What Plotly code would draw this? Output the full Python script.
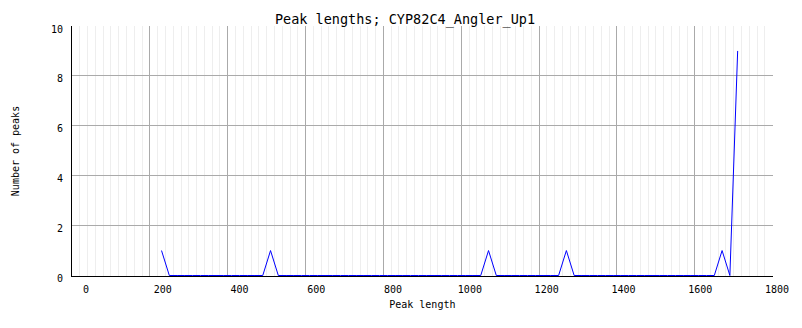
import plotly.graph_objects as go

# ---- data ----
peak_length = [
    230, 250, 270, 290, 310, 330, 350, 370, 390, 410,
    430, 450, 470, 490, 510, 530, 550, 570, 590, 610,
    630, 650, 670, 690, 710, 730, 750, 770, 790, 810,
    830, 850, 870, 890, 910, 930, 950, 970, 990, 1010,
    1030, 1050, 1070, 1090, 1110, 1130, 1150, 1170, 1190, 1210,
    1230, 1250, 1270, 1290, 1310, 1330, 1350, 1370, 1390, 1410,
    1430, 1450, 1470, 1490, 1510, 1530, 1550, 1570, 1590, 1610,
    1630, 1650, 1670, 1690, 1710,
]
num_peaks = [
    1, 0, 0, 0, 0, 0, 0, 0, 0, 0,
    0, 0, 0, 0, 1, 0, 0, 0, 0, 0,
    0, 0, 0, 0, 0, 0, 0, 0, 0, 0,
    0, 0, 0, 0, 0, 0, 0, 0, 0, 0,
    0, 0, 1, 0, 0, 0, 0, 0, 0, 0,
    0, 0, 1, 0, 0, 0, 0, 0, 0, 0,
    0, 0, 0, 0, 0, 0, 0, 0, 0, 0,
    0, 0, 1, 0, 9,
]
x_ticks = [0, 200, 400, 600, 800, 1000, 1200, 1400, 1600, 1800]
y_ticks = [0, 2, 4, 6, 8, 10]

title_text = "Peak lengths; CYP82C4_Angler_Up1"
x_title = "Peak length"
y_title = "Number of peaks"

# ---- layout geometry ----
W, H = 802, 328
plot_left, plot_right = 72, 772.7
label_right = 777
paper_w = label_right - plot_left

MONO = "DejaVu Sans Mono"
tick_font = dict(family=MONO, size=10, color="black")

fig = go.Figure()
# helper axes first so that the data subplot is drawn last (on top)
fig.add_trace(go.Scatter(x=[], y=[], xaxis="x2", yaxis="y2", showlegend=False))
fig.add_trace(go.Scatter(
    x=peak_length, y=num_peaks, mode="lines",
    line=dict(color="#0000ff", width=1, simplify=False),
    xaxis="x", yaxis="y", hoverinfo="skip", showlegend=False,
    cliponaxis=False,
))

fig.update_layout(
    width=W, height=H,
    margin=dict(l=plot_left, r=W - label_right, t=26, b=52, pad=0),
    paper_bgcolor="white", plot_bgcolor="rgba(0,0,0,0)",
    showlegend=False,
    title=dict(
        text=title_text, x=0.505, xanchor="center", xref="container",
        y=1 - 19 / H, yanchor="middle", yref="container",
        font=dict(family=MONO, size=13.5, color="black"),
    ),
    xaxis=dict(
        domain=[0, (plot_right - plot_left) / paper_w],
        range=[0, 1800], tickvals=x_ticks, showticklabels=False,
        showgrid=True, gridcolor="#aaaaaa", gridwidth=1,
        minor=dict(dtick=20, showgrid=True, gridcolor="#eeeeee", gridwidth=1),
        showline=True, linecolor="black", linewidth=1,
        zeroline=False, ticks="", layer="below traces", anchor="y",
        title=dict(text=x_title, font=dict(family=MONO, size=10, color="black"), standoff=24),
        fixedrange=True,
    ),
    yaxis=dict(
        domain=[0, 1], range=[-0.02, 10], tickvals=y_ticks,
        tickfont=tick_font, ticklabelstandoff=6, ticklabelshift=3,
        showgrid=True, gridcolor="#aaaaaa", gridwidth=1,
        showline=True, linecolor="black", linewidth=1,
        zeroline=False,
        ticks="", layer="below traces", anchor="x",
        title=dict(text=y_title, font=dict(family=MONO, size=10, color="black"), standoff=29),
        fixedrange=True,
    ),
    xaxis2=dict(
        domain=[14 / paper_w, 1], range=[0, 1800], tickvals=x_ticks,
        tickfont=tick_font, ticklabelstandoff=6,
        showgrid=False, showline=False, zeroline=False, ticks="",
        anchor="y2", fixedrange=True,
    ),
    yaxis2=dict(
        domain=[0, 1], range=[0, 10], anchor="x2",
        showgrid=False, showline=False, zeroline=False,
        showticklabels=False, ticks="", fixedrange=True,
    ),
)

fig.write_html("out.html")
